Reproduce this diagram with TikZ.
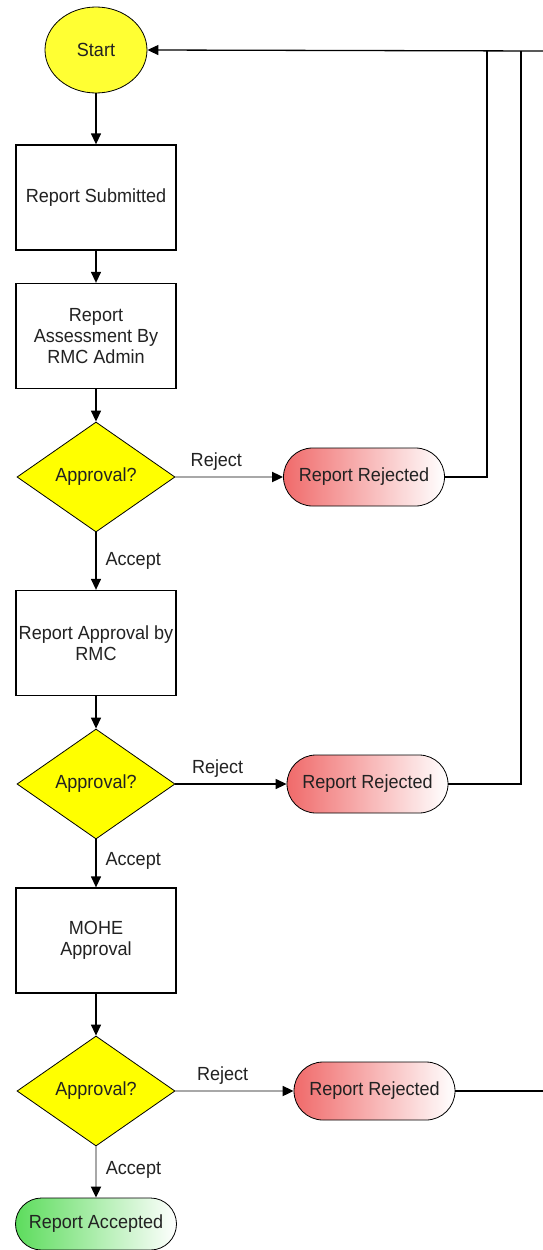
\documentclass[tikz,border=0pt]{standalone}
\usepackage{fontspec}
\setmainfont{Liberation Sans}[FakeStretch=0.95]
\usetikzlibrary{shapes.geometric,shapes.misc,arrows.meta}
\definecolor{decyellow}{HTML}{FFFF00}
\definecolor{startyellow}{HTML}{FFFF33}
\definecolor{rejred}{HTML}{F06A6A}
\definecolor{accgreen}{HTML}{5CDC5C}
\definecolor{linegray}{HTML}{A8A8A8}
\definecolor{txt}{HTML}{222222}
\tikzset{
  box/.style={draw, line width=1.3pt, minimum width=160pt, minimum height=105pt, align=center, inner sep=0pt, text=txt},
  dec/.style={diamond, draw, line width=0.8pt, fill=decyellow, minimum width=158pt, minimum height=110pt, inner sep=0pt, text=txt},
  term/.style={rounded rectangle, draw, line width=0.8pt, minimum width=161pt, minimum height=58pt, inner sep=0pt, text=txt},
  rej/.style={term, left color=rejred, right color=white},
  acc/.style={term, left color=accgreen, right color=white},
  tip/.style={-{Triangle[length=11pt,width=10pt,color=black]}},
  flow/.style={draw, line width=1.3pt, tip},
  gflow/.style={draw=linegray, line width=1.8pt, tip},
  ret/.style={draw, line width=1.3pt},
  lbl/.style={text=txt, inner sep=0pt}
}
\begin{document}
\begin{tikzpicture}[x=1pt,y=-1pt,font=\fontsize{19}{21}\selectfont]
\useasboundingbox[fill=white] (0,0) rectangle (543,1250);
\node[ellipse, draw, line width=0.8pt, fill=startyellow, minimum width=102pt, minimum height=86pt, inner sep=0pt, text=txt] (start) at (96,50) {Start};
\node[box] (sub) at (96,197.5) {Report Submitted};
\node[box] (assess) at (96,336) {Report\\Assessment By\\RMC Admin};
\node[dec] (d1) at (96,477) {Approval?};
\node[rej] (rj1) at (364,477) {Report Rejected};
\node[box] (rmc) at (96,643) {Report Approval by\\RMC};
\node[dec] (d2) at (96,784) {Approval?};
\node[rej] (rj2) at (367.5,784) {Report Rejected};
\node[box] (mohe) at (96,940.5) {MOHE\\Approval};
\node[dec] (d3) at (96,1091) {Approval?};
\node[rej] (rj3) at (374.5,1091) {Report Rejected};
\node[acc, minimum height=52pt] (acc) at (96,1224) {Report Accepted};

\coordinate (topR) at (543,51);
\coordinate (j1) at (487,51);
\coordinate (j2) at (521,51);
\coordinate (e3) at (543,1091);

\draw[flow] (topR) -- (start.east);
\draw[flow] (start) -- (sub);
\draw[flow] (sub) -- (assess);
\draw[flow] (assess) -- (d1);
\draw[gflow] (d1) -- (rj1) node[lbl, pos=0.38, above=6pt] (rl1) {Reject};
\draw[flow] (d1) -- (rmc) node[lbl, pos=0.5, right=9pt] (al1) {Accept};
\draw[flow] (rmc) -- (d2);
\draw[flow] (d2) -- (rj2) node[lbl, pos=0.38, above=6pt] (rl2) {Reject};
\draw[flow] (d2) -- (mohe) node[lbl, pos=0.45, right=9pt] (al2) {Accept};
\draw[flow] (mohe) -- (d3);
\draw[gflow] (d3) -- (rj3) node[lbl, pos=0.4, above=6pt] (rl3) {Reject};
\draw[gflow] (d3) -- (acc) node[lbl, pos=0.45, right=9pt] (al3) {Accept};

\draw[ret] (rj1.east) -| (j1);
\draw[ret] (rj2.east) -| (j2);
\draw[ret] (rj3.east) -- (e3);
\end{tikzpicture}
\end{document}
